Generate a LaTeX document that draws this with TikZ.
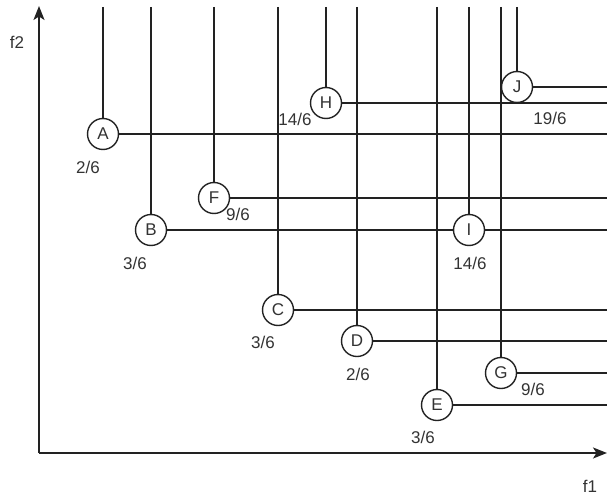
\documentclass[tikz,border=0pt]{standalone}
\usepackage{fontspec}
\setmainfont{Liberation Sans}
\usetikzlibrary{arrows.meta}
\definecolor{ink}{HTML}{222222}
\definecolor{txt}{HTML}{333333}
\tikzset{
  pt/.style={circle, draw=ink, line width=1.4pt, fill=white, minimum size=31pt, inner sep=0pt, text=txt, font=\fontsize{17}{20}\selectfont},
  lab/.style={text=txt, font=\fontsize{17}{20}\selectfont, inner sep=0pt},
  wire/.style={draw=ink, line width=1.3pt},
  axis/.style={draw=ink, line width=1.6pt, -{Stealth[length=14pt,width=11pt,inset=3.5pt]}}
}
\begin{document}
\begin{tikzpicture}[x=1pt,y=-1pt]
\useasboundingbox (0,0) rectangle (607,495);
% points: name, x, y
\foreach \n/\px/\py in {A/103/134, B/151/230, F/214/198, C/278/310, H/326/103,
                        D/357/341, E/437/405, I/469/230, G/501/373, J/517/87}{
  \coordinate (\n-top) at (\px,7);
  \coordinate (\n-end) at (607,\py);
  \coordinate (\n-c) at (\px,\py);
}
% guide lines: up to the top edge, right to the right edge
\foreach \n in {A,B,F,C,H,D,E,I,G,J}{
  \draw[wire] (\n-top) -- (\n-c) -- (\n-end);
}
% axes
\coordinate (O) at (39,453);
\coordinate (Ytip) at (39,6);
\coordinate (Xtip) at (607,453);
\draw[axis] (O) -- (Ytip);
\draw[axis] (O) -- (Xtip);
\node[lab] (f2) at (17,42) {f2};
\node[lab] (f1) at (590,486) {f1};
% point circles
\foreach \n in {A,B,F,C,H,D,E,I,G,J}{
  \node[pt] (\n) at (\n-c) {\n};
}
% values
\node[lab] (vA) at (88,167) {2/6};
\node[lab] (vB) at (135,263) {3/6};
\node[lab] (vF) at (238,214) {9/6};
\node[lab] (vC) at (263,342) {3/6};
\node[lab] (vH) at (295,119) {14/6};
\node[lab] (vD) at (358,374) {2/6};
\node[lab] (vE) at (423,437) {3/6};
\node[lab] (vI) at (470,263) {14/6};
\node[lab] (vG) at (533,389) {9/6};
\node[lab] (vJ) at (550,118) {19/6};
\end{tikzpicture}
\end{document}
